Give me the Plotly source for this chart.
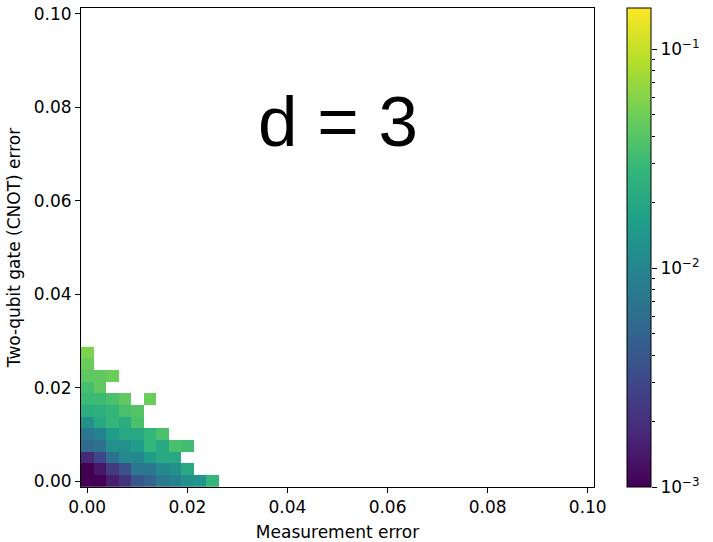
import math
import plotly.graph_objects as go

# logical error rate for d = 3, one list per CNOT-error row (bottom row first),
# entries run along measurement error; None = no sample
step = 0.0025
rows = [
    [0.0010, 0.0010, 0.0015, 0.00213, 0.0039, 0.0050, 0.0075, 0.0092, 0.0124, 0.0137, 0.0278],
    [0.0010, 0.00135, 0.00236, 0.00352, 0.0075, 0.0075, 0.0107, 0.0124, 0.0205],
    [0.00174, 0.00303, 0.00646, 0.0107, 0.0107, 0.016, 0.0205, 0.0205],
    [0.0058, 0.00646, 0.0124, 0.0124, 0.016, 0.0278, 0.0205, 0.0357, 0.0323],
    [0.0075, 0.0092, 0.016, 0.0205, 0.0205, 0.0278, 0.0357],
    [0.0131, 0.0205, 0.0278, 0.0228, 0.0357],
    [0.0228, 0.0239, 0.0278, 0.0357, 0.0395],
    [0.0308, 0.0308, 0.0357, 0.0438, None, 0.0484],
    [0.034, 0.0438],
    [0.0438, 0.0438, 0.0484],
    [0.0484],
    [0.0563],
]
n_cols = 11
meas_err = [i * step for i in range(n_cols)]
cnot_err = [j * step for j in range(len(rows))]
axis_ticks = [0.0, 0.02, 0.04, 0.06, 0.08, 0.10]
cbar_min, cbar_max = 1e-3, 0.154
cbar_major = [1e-3, 1e-2, 1e-1]
cbar_labels = ["10<sup>−3</sup>", "10<sup>−2</sup>", "10<sup>−1</sup>"]

z = []
for r in rows:
    padded = r + [None] * (n_cols - len(r))
    z.append([math.log10(v) if v is not None else None for v in padded])

cbar_minor = [k * 10.0 ** e for e in (-3, -2) for k in range(2, 10)]

font = dict(family="DejaVu Sans", size=17, color="black")
W, H = 713, 542
L, R, T, B = 81, 62, 8, 55
plot_w = W - L - R
x_dom = 513 / plot_w

fig = go.Figure()
fig.add_trace(
    go.Heatmap(
        x=meas_err,
        y=cnot_err,
        z=z,
        colorscale="Viridis",
        zmin=math.log10(cbar_min),
        zmax=math.log10(cbar_max),
        colorbar=dict(
            x=(627 - L) / plot_w,
            xanchor="left",
            xpad=0,
            ypad=0,
            y=0.5,
            len=1,
            thickness=24,
            outlinewidth=1,
            outlinecolor="black",
            showticklabels=False,
            ticks="",
        ),
    )
)
# log axis standing in for the colorbar scale (gets proper minor ticks)
fig.add_trace(go.Scatter(x=[None], y=[None], yaxis="y2", showlegend=False, hoverinfo="skip"))

fig.add_annotation(
    x=0.05,
    y=0.077,
    text="d = 3",
    showarrow=False,
    xanchor="center",
    yanchor="middle",
    font=dict(family="Liberation Sans", size=71, color="black"),
)

fig.update_layout(
    width=W,
    height=H,
    margin=dict(l=L, r=R, t=T, b=B, autoexpand=False),
    paper_bgcolor="white",
    plot_bgcolor="white",
    font=font,
    xaxis=dict(
        domain=[0, x_dom],
        range=[-step / 2, 0.1 + step / 2],
        tickvals=axis_ticks,
        tickformat=".2f",
        ticks="outside",
        ticklen=5,
        tickwidth=1,
        tickcolor="black",
        showline=True,
        mirror=True,
        linecolor="black",
        linewidth=1,
        showgrid=False,
        zeroline=False,
        automargin=False,
        title=dict(text="Measurement error", font=font, standoff=10),
    ),
    yaxis=dict(
        range=[-step / 2, 0.1 + step / 2],
        tickvals=axis_ticks,
        tickformat=".2f",
        ticks="outside",
        ticklen=5,
        tickwidth=1,
        tickcolor="black",
        showline=True,
        mirror=True,
        linecolor="black",
        linewidth=1,
        showgrid=False,
        zeroline=False,
        automargin=False,
        title=dict(text="Two-qubit gate (CNOT) error", font=font, standoff=8),
    ),
    yaxis2=dict(
        type="log",
        overlaying="y",
        anchor="free",
        position=1.0,
        side="right",
        range=[math.log10(cbar_min), math.log10(cbar_max)],
        tickvals=cbar_major,
        ticktext=cbar_labels,
        ticks="outside",
        ticklen=5,
        tickwidth=1,
        tickcolor="black",
        minor=dict(tickvals=cbar_minor, ticks="outside", ticklen=3, tickwidth=1, tickcolor="black"),
        showline=False,
        showgrid=False,
        zeroline=False,
        automargin=False,
        tickfont=font,
    ),
)

# page body has a default 8px margin; drop it so the figure sits at the corner
fig.write_html(
    "out.html",
    config={"displayModeBar": False},
    post_script="document.body.style.margin = '0';",
)
